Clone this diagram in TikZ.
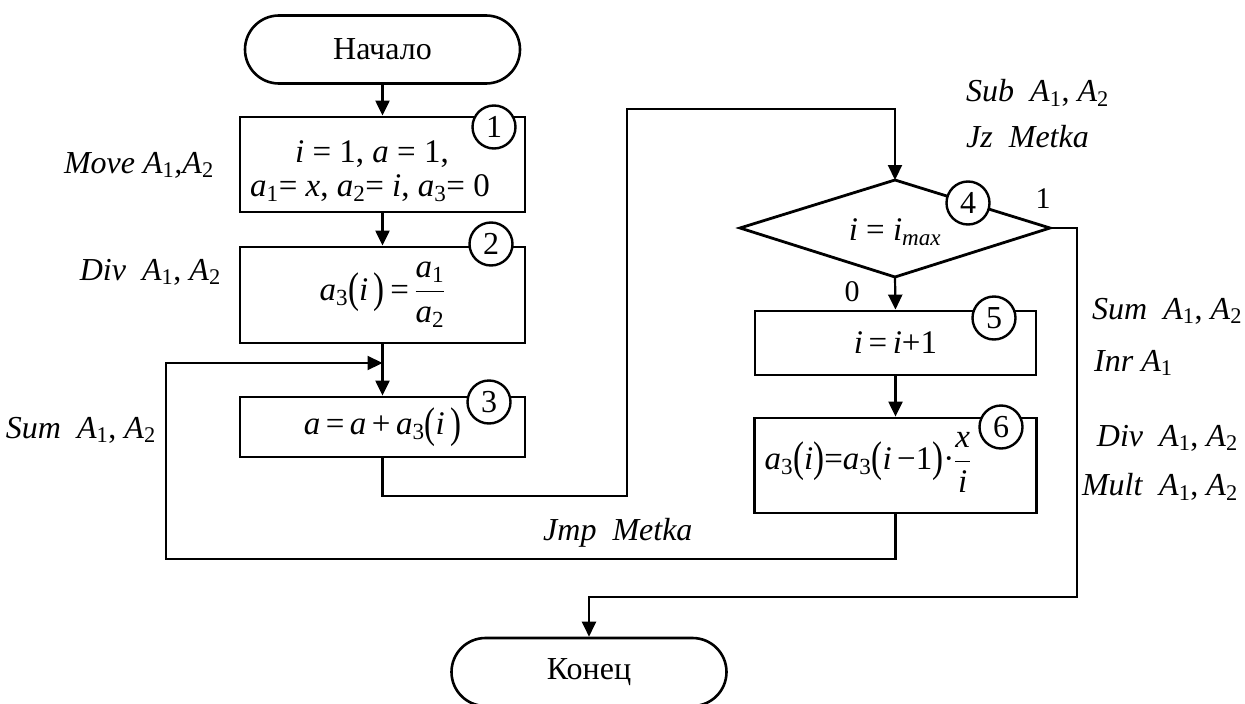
\RequirePackage{fix-cm}
\documentclass[tikz,border=0pt]{standalone}
\usepackage{amsmath}
\usepackage{graphicx}
\usepackage{fontspec}
\setmainfont{Liberation Serif}
\newfontfamily\tnr{Liberation Serif}
\usetikzlibrary{arrows.meta}
\newcommand\iv[1]{\textit{#1}}
\newcommand\sbs[1]{\textsubscript{#1}}
\newcommand\lp{\raisebox{-2.5pt}{\scalebox{1}[1.3]{(}}}
\newcommand\rp{\raisebox{-2.5pt}{\scalebox{1}[1.3]{)}}}
\begin{document}
\begin{tikzpicture}[x=1pt,y=-1pt,
  every node/.style={font=\tnr\fontsize{30}{34}\selectfont},
  blk/.style={draw, line width=2.8pt, rectangle, inner sep=0pt, align=center},
  term/.style={draw, line width=2.6pt, rectangle, rounded corners=34pt, minimum width=275pt, minimum height=68pt, inner sep=0pt, font=\tnr\fontsize{32}{34}\selectfont},
  num/.style={draw, circle, line width=2.4pt, fill=white, minimum size=43pt, inner sep=0pt, font=\tnr\fontsize{32}{34}\selectfont},
  mtx/.style={font=\tnr\fontsize{33}{37}\selectfont},
  lbl/.style={inner sep=0pt, font=\tnr\fontsize{32}{36}\selectfont},
  conn/.style={line width=2.2pt},
  arr/.style={conn, -{Triangle[length=15pt,width=14pt]}}
]
\useasboundingbox (0,0) rectangle (1245,704);

% terminals
\node[term] (start) at (382.5,49.5) {Начало};
\node[term] (stop) at (589,672) {Конец};

% left column blocks
\node[blk, minimum width=285pt, minimum height=95pt] (b1) at (382.5,164.5) {};
\node[mtx] (t1a) at (372,154) {\iv{i} = 1, \iv{a} = 1,};
\node[mtx] (t1b) at (370,188) {\iv{a}\sbs{1}= \iv{x}, \iv{a}\sbs{2}= \iv{i}, \iv{a}\sbs{3}= 0};
\node[blk, mtx, minimum width=285pt, minimum height=96pt] (b2) at (382.5,295)
  {\iv{a}\sbs{3}\lp\iv{i}\,\rp\,=\,$\dfrac{\text{\iv{a}\sbs{1}}}{\text{\iv{a}\sbs{2}}}$};
\node[blk, mtx, minimum width=285pt, minimum height=60pt] (b3) at (382.5,427)
  {\iv{a}\,=\,\iv{a}\,+\,\iv{a}\sbs{3}\lp\iv{i}\,\rp};

% right column
\coordinate (dT) at (895,180);
\coordinate (dR) at (1050,228);
\coordinate (dB) at (895,277);
\coordinate (dL) at (740,228);
\draw[line width=2.8pt, line join=miter] (dT) -- (dR) -- (dB) -- (dL) -- cycle;
\node[mtx] (dtext) at (895,232) {\iv{i} = \iv{i}\sbs{\iv{max}}};
\node[blk, mtx, minimum width=281pt, minimum height=64pt] (b5) at (895.5,343) {\iv{i}\,=\,\iv{i}+1};
\node[blk, minimum width=282pt, minimum height=95pt] (b6) at (895.5,465.5) {};
\node[mtx] (t6) at (868,462) {\iv{a}\sbs{3}\lp\iv{i}\rp=\iv{a}\sbs{3}\lp\iv{i}\,−1\rp·$\dfrac{\text{\iv{x}}}{\text{\iv{i}}}$};

% connectors
\draw[arr] (start.south) -- (b1.north);
\draw[arr] (b1.south) -- (b2.north);
\draw[arr] (b2.south) -- (b3.north);

\coordinate (j3) at (382.5,363);
\coordinate (l1) at (895.5,559);
\coordinate (l2) at (166,559);
\coordinate (l3) at (166,363);
\draw[arr] (b6.south) -- (l1) -- (l2) -- (l3) -- (j3);

\coordinate (m1) at (382.5,496);
\coordinate (m2) at (627,496);
\coordinate (m3) at (627,109);
\coordinate (m4) at (895,109);
\draw[arr] (b3.south) -- (m1) -- (m2) -- (m3) -- (m4) -- (dT);

\draw[arr] (dB) -- (b5.north);
\draw[arr] (b5.south) -- (b6.north);

\coordinate (r1) at (1077,228);
\coordinate (r2) at (1077,597);
\coordinate (r3) at (589,597);
\draw[arr] (dR) -- (r1) -- (r2) -- (r3) -- (stop.north);

% numbered circles
\node[num] (n1) at (494,127) {1};
\node[num] (n2) at (491,244) {2};
\node[num] (n3) at (489,402) {3};
\node[num] (n4) at (968,203) {4};
\node[num] (n5) at (994,318) {5};
\node[num] (n6) at (1001,427) {6};

% branch labels
\node (one) at (1043,199) {1};
\node (zero) at (852,292) {0};

% assembler labels
\node[lbl, anchor=east] (lmove) at (214,165) {\iv{Move A}\sbs{1}\iv{,A}\sbs{2}};
\node[lbl, anchor=east] (ldiv) at (221,272) {\iv{Div}\ \ \iv{A}\sbs{1}, \iv{A}\sbs{2}};
\node[lbl, anchor=east] (lsum) at (156,430) {\iv{Sum}\ \ \iv{A}\sbs{1}, \iv{A}\sbs{2}};
\node[lbl, anchor=west] (lsub) at (966,93) {\iv{Sub}\ \ \iv{A}\sbs{1}, \iv{A}\sbs{2}};
\node[lbl, anchor=west] (ljz) at (966,137) {\iv{Jz}\ \ \iv{Metka}};
\node[lbl, anchor=west] (ljmp) at (543,533) {\iv{Jmp}\ \ \iv{Metka}};
\node[lbl, anchor=west] (lsum2) at (1092,311) {\iv{Sum}\ \ \iv{A}\sbs{1}, \iv{A}\sbs{2}};
\node[lbl, anchor=west] (linr) at (1094,363) {\iv{Inr A}\sbs{1}};
\node[lbl, anchor=east] (ldiv2) at (1238,438) {\iv{Div}\ \ \iv{A}\sbs{1}, \iv{A}\sbs{2}};
\node[lbl, anchor=east] (lmult) at (1238,487) {\iv{Mult}\ \ \iv{A}\sbs{1}, \iv{A}\sbs{2}};
\end{tikzpicture}
\end{document}
